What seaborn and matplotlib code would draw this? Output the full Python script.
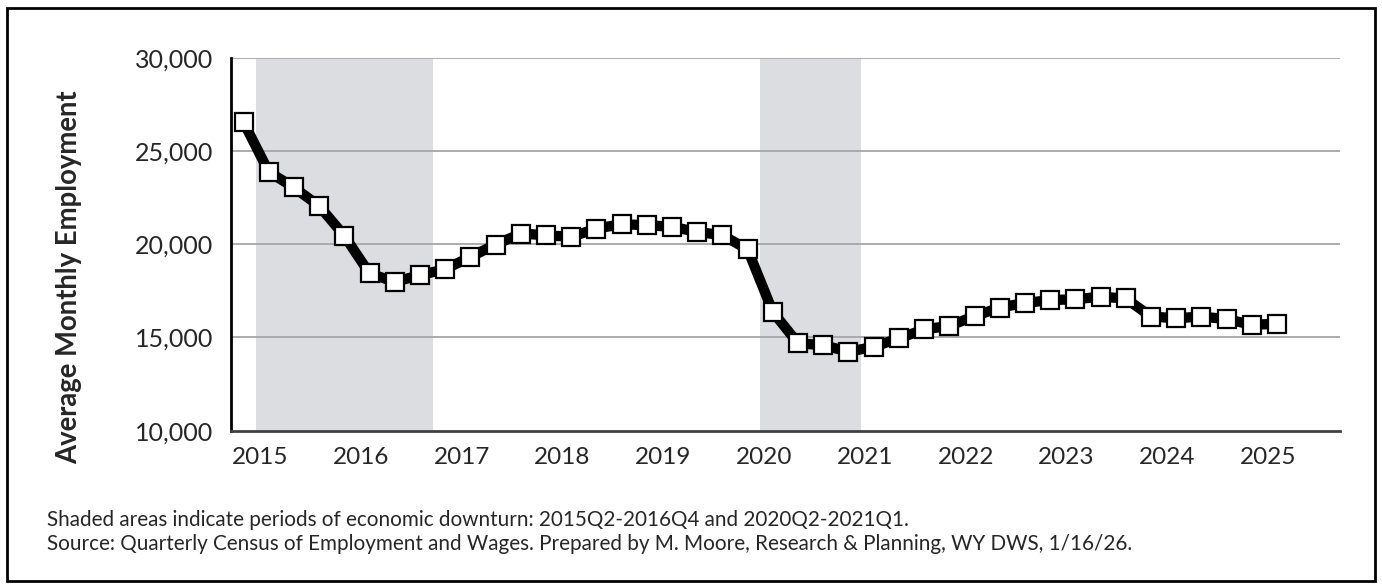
import pandas as pd
import seaborn as sns
import matplotlib.pyplot as plt
from matplotlib.patches import Rectangle

# quarterly data, 2015Q1 - 2025Q2
years = list(range(2015, 2026))
quarters = [f"{y}Q{q}" for y in years for q in range(1, 5)]
employment = [26550, 23880, 23040, 22050, 20450, 18430, 17980, 18340,
              18660, 19320, 19980, 20570, 20480, 20390, 20840, 21070,
              21020, 20930, 20660, 20480, 19720, 16370, 14680, 14590,
              14230, 14500, 14950, 15430, 15620, 16140, 16600, 16850,
              17000, 17050, 17180, 17090, 16120, 16030, 16120, 15980,
              15680, 15730]
downturns = [("2015Q2", "2016Q4"), ("2020Q2", "2021Q1")]
y_ticks = [10000, 15000, 20000, 25000, 30000]

notes = ("Shaded areas indicate periods of economic downturn: 2015Q2-2016Q4 and 2020Q2-2021Q1.\n"
         "Source: Quarterly Census of Employment and Wages. Prepared by M. Moore, Research & Planning, WY DWS, 1/16/26.")

df = pd.DataFrame({"quarter": quarters[:len(employment)], "employment": employment})
df["pos"] = range(len(df))

sns.set_style("white")
plt.rcParams["font.family"] = ["Lato", "DejaVu Sans"]

fig = plt.figure(figsize=(13.82, 5.87), dpi=100)
ax = fig.add_axes([0.1671, 0.2663, 0.8025, 0.6354])

# shaded downturn periods
for start, end in downturns:
    ax.axvspan(quarters.index(start) - 0.5, quarters.index(end) + 0.5,
               color="#dcdde0", lw=0, zorder=0)

for v in y_ticks[1:]:
    ax.axhline(v, color="#a6a6a6", lw=1.3, zorder=1)

sns.lineplot(data=df, x="pos", y="employment", ax=ax, color="black", lw=7.4,
             marker="s", markersize=12.5, markerfacecolor="white",
             markeredgecolor="black", markeredgewidth=1.6, zorder=3)

ax.set_xlim(-0.5, len(quarters) - 0.5)
ax.set_ylim(y_ticks[0], y_ticks[-1])
ax.set_yticks(y_ticks)
ax.set_yticklabels([f"{v:,}" for v in y_ticks], fontsize=18)
ax.tick_params(axis="y", length=0, pad=13)

ax.set_xticks([i * 4 + 0.65 for i in range(len(years))])
ax.set_xticklabels([str(y) for y in years], fontsize=17.5)
ax.set_xticks([i + 0.5 for i in range(len(quarters))], minor=True)
ax.tick_params(axis="x", which="major", length=0, pad=12)
ax.tick_params(axis="x", which="minor", direction="in", length=6, width=1.4, color="black")

ax.set_xlabel("")
ax.set_ylabel("Average Monthly Employment", fontsize=19.8, fontweight="bold")
ax.yaxis.set_label_coords(-0.134, 0.411)

for s in ["top", "right"]:
    ax.spines[s].set_visible(False)
ax.spines["left"].set_color("black")
ax.spines["left"].set_linewidth(2)
ax.spines["bottom"].set_color("#404040")
ax.spines["bottom"].set_linewidth(2)

fig.text(0.034, 0.063, notes, fontsize=14.9, ha="left", va="baseline", linespacing=1.22)

fig.patches.append(Rectangle((0.005, 0.01), 0.99, 0.977, transform=fig.transFigure,
                             fill=False, edgecolor="black", lw=2))

fig.savefig("out.png", dpi=100)
